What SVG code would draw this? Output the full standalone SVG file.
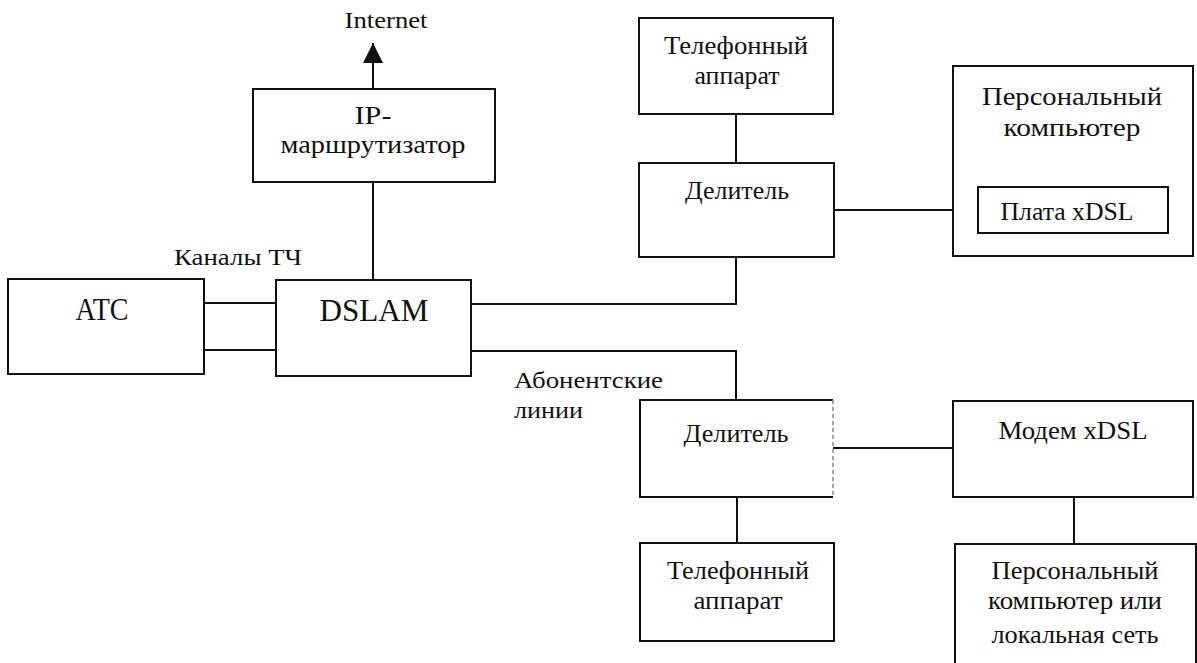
<svg xmlns="http://www.w3.org/2000/svg" width="1197" height="663" viewBox="0 0 1197 663">
<defs>
<style>
.box{fill:none;stroke:#111;stroke-width:2}
.ln{fill:none;stroke:#111;stroke-width:2}
.t{font-family:"Liberation Serif","Times New Roman",serif;font-size:26px;fill:#111;text-anchor:middle}
.big{font-size:31px}
.lbl{font-family:"Liberation Serif","Times New Roman",serif;font-size:23px;fill:#111}
</style>
<marker id="ahBig" viewBox="0 0 20 20" refX="20" refY="10" markerWidth="20" markerHeight="20" markerUnits="userSpaceOnUse" orient="auto">
<path d="M0,0 L20,10 L0,20 Z" fill="#111"/>
</marker>
</defs>
<rect width="1197" height="663" fill="#fff"/>

<g id="connectors">
<line class="ln" x1="373" y1="89" x2="373" y2="43" marker-end="url(#ahBig)"/>
<line class="ln" x1="373" y1="182" x2="373" y2="280"/>
<line class="ln" x1="204" y1="303" x2="276" y2="303"/>
<line class="ln" x1="204" y1="350" x2="276" y2="350"/>
<polyline class="ln" points="471,304 736,304 736,257"/>
<polyline class="ln" points="471,351 736,351 736,400"/>
<line class="ln" x1="736" y1="114" x2="736" y2="163"/>
<line class="ln" x1="834" y1="210" x2="953" y2="210"/>
<line class="ln" x1="833" y1="448" x2="953" y2="448"/>
<line class="ln" x1="737" y1="497" x2="737" y2="543"/>
<line class="ln" x1="1074" y1="497" x2="1074" y2="544"/>
</g>

<g id="internet">
<text class="lbl" x="386" y="28" text-anchor="middle" textLength="83" lengthAdjust="spacingAndGlyphs">Internet</text>
</g>

<g id="ip-router">
<rect class="box" x="253" y="89" width="242" height="93"/>
<text class="t" x="373" y="124" textLength="37" lengthAdjust="spacingAndGlyphs">IP-</text>
<text class="t" x="373" y="153" textLength="185" lengthAdjust="spacingAndGlyphs">маршрутизатор</text>
</g>

<g id="atc">
<rect class="box" x="8" y="279" width="196" height="95"/>
<text class="t big" x="102" y="320" textLength="53" lengthAdjust="spacingAndGlyphs">ATC</text>
</g>

<g id="dslam">
<rect class="box" x="276" y="280" width="195" height="96"/>
<text class="t big" x="374" y="321" textLength="109" lengthAdjust="spacingAndGlyphs">DSLAM</text>
</g>

<g id="label-channels">
<text class="lbl" x="174" y="265" textLength="128" lengthAdjust="spacingAndGlyphs">Каналы ТЧ</text>
</g>

<g id="label-lines">
<text class="lbl" x="514" y="388" textLength="149" lengthAdjust="spacingAndGlyphs">Абонентские</text>
<text class="lbl" x="514" y="418" textLength="69" lengthAdjust="spacingAndGlyphs">линии</text>
</g>

<g id="phone-top">
<rect class="box" x="639" y="18" width="194" height="96"/>
<text class="t" x="736" y="54" textLength="144" lengthAdjust="spacingAndGlyphs">Телефонный</text>
<text class="t" x="737" y="84" textLength="85" lengthAdjust="spacingAndGlyphs">аппарат</text>
</g>

<g id="splitter-top">
<rect class="box" x="639" y="163" width="195" height="94"/>
<text class="t" x="737" y="199" textLength="104" lengthAdjust="spacingAndGlyphs">Делитель</text>
</g>

<g id="pc-top">
<rect class="box" x="953" y="66" width="240" height="190"/>
<text class="t" x="1072" y="105" textLength="180" lengthAdjust="spacingAndGlyphs">Персональный</text>
<text class="t" x="1072" y="136" textLength="137" lengthAdjust="spacingAndGlyphs">компьютер</text>
<g id="xdsl-card">
<rect class="box" x="978" y="187" width="190" height="46"/>
<text class="t" x="1067" y="220" textLength="133" lengthAdjust="spacingAndGlyphs">Плата xDSL</text>
</g>
</g>

<g id="splitter-bottom">
<path class="box" d="M833,400 L640,400 L640,497 L833,497"/>
<line x1="833" y1="400" x2="833" y2="497" stroke="#888" stroke-width="1.5" stroke-dasharray="4 3"/>
<text class="t" x="736" y="442" textLength="105" lengthAdjust="spacingAndGlyphs">Делитель</text>
</g>

<g id="modem">
<rect class="box" x="953" y="401" width="240" height="96"/>
<text class="t" x="1073" y="439" textLength="149" lengthAdjust="spacingAndGlyphs">Модем xDSL</text>
</g>

<g id="phone-bottom">
<rect class="box" x="640" y="543" width="194" height="98"/>
<text class="t" x="738" y="579" textLength="142" lengthAdjust="spacingAndGlyphs">Телефонный</text>
<text class="t" x="738" y="609" textLength="89" lengthAdjust="spacingAndGlyphs">аппарат</text>
</g>

<g id="pc-bottom">
<rect class="box" x="955" y="544" width="241" height="130"/>
<text class="t" x="1075" y="579" textLength="167" lengthAdjust="spacingAndGlyphs">Персональный</text>
<text class="t" x="1075" y="609" textLength="174" lengthAdjust="spacingAndGlyphs">компьютер или</text>
<text class="t" x="1075" y="643" textLength="167" lengthAdjust="spacingAndGlyphs">локальная сеть</text>
</g>
</svg>
